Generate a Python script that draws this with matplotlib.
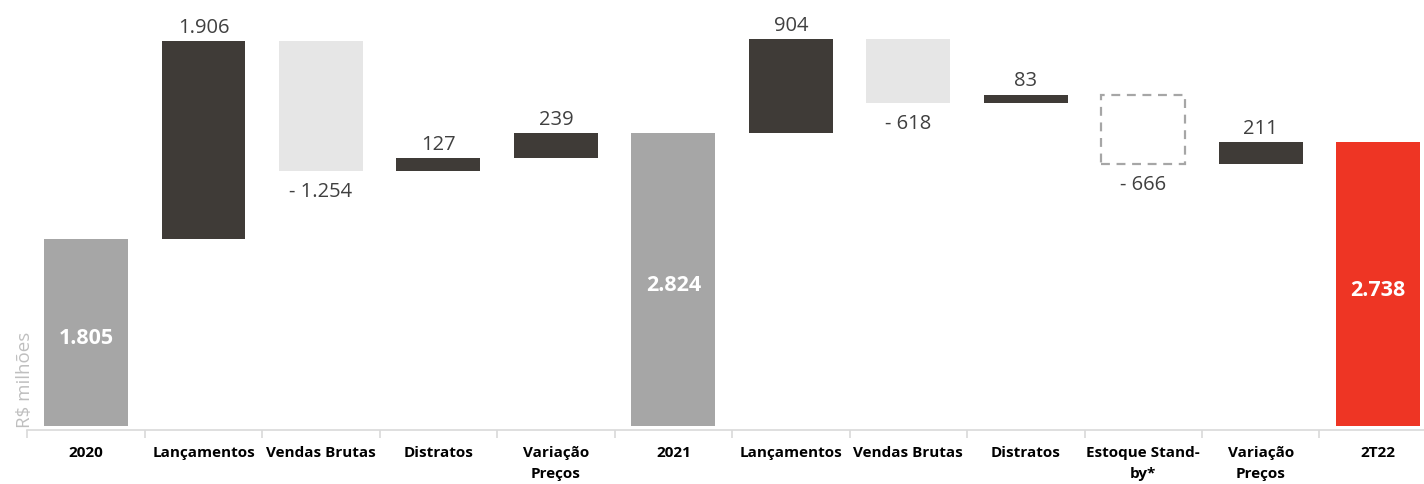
import numpy as np
import matplotlib
matplotlib.use("Agg")
import matplotlib.pyplot as plt

categories = ["2020", "Lançamentos", "Vendas Brutas", "Distratos", "Variação\nPreços",
              "2021", "Lançamentos", "Vendas Brutas", "Distratos", "Estoque Stand-\nby*",
              "Variação\nPreços", "2T22"]
values = [1805, 1906, -1254, 127, 239, 2824, 904, -618, 83, -666, 211, 2738]
kinds = ["total", "delta", "delta", "delta", "delta", "total",
         "delta", "delta", "delta", "standby", "delta", "final"]

DARK = "#3f3b37"
LIGHT = "#e6e6e6"
TOTAL = "#a6a6a6"
RED = "#ee3524"
TXT = "#404040"

plt.rcParams['font.family'] = ['Open Sans', 'DejaVu Sans']

fig = plt.figure(figsize=(14.24, 4.85), dpi=100)
# baseline sits at y=427 px, first category centred at x=86 px
ax = fig.add_axes([27.3 / 1424, 58 / 485, 1396.7 / 1424, 427 / 485])


def fmt(v):
    s = f"{abs(v):,}".replace(",", ".")
    return s if v > 0 else "- " + s


w = 0.715
running = 0
for i, (v, k) in enumerate(zip(values, kinds)):
    if k in ("total", "final"):
        color = RED if k == "final" else TOTAL
        ax.bar(i, v, width=w, color=color)
        ax.text(i, v / 2 - 50, fmt(v), ha="center", va="center",
                color="white", fontsize=15.5, fontweight="bold")
        running = v
        continue
    lo = min(running, running + v)
    hi = max(running, running + v)
    if k == "standby":
        ax.bar(i, hi - lo, bottom=lo, width=w, facecolor="none", edgecolor=TOTAL,
               linewidth=1.6, linestyle=(0, (4, 3)))
    else:
        ax.bar(i, hi - lo, bottom=lo, width=w, color=DARK if v > 0 else LIGHT)
    if v > 0:
        ax.text(i, hi + 40, fmt(v), ha="center", va="bottom", color=TXT, fontsize=14.5)
    else:
        ax.text(i, lo - 95, fmt(v), ha="center", va="top", color=TXT, fontsize=14.5)
    running += v

ax.set_yticks([])
for s in ["top", "right", "left"]:
    ax.spines[s].set_visible(False)
ax.spines["bottom"].set_color("#d9d9d9")
ax.spines["bottom"].set_linewidth(1.2)
ax.spines["bottom"].set_position(("outward", 3))

ax.set_xticks(np.arange(len(categories)))
ax.set_xticklabels(categories, fontsize=11, fontweight="bold", color="black", va="top",
                   linespacing=1.6)
ax.tick_params(axis="x", length=0, pad=11)
ax.set_xticks(np.arange(-0.5, len(categories)), minor=True)
ax.tick_params(axis="x", which="minor", length=6, color="#d9d9d9", width=1.2)

# limits after the ticks, set_xticks would widen them otherwise
ax.set_xlim(-0.5, 11.39)
ax.set_ylim(0, 4114)

fig.text(25 / 1424, 1 - 380 / 485, "R$ milhões", rotation=90, ha="center", va="center",
         color="#bfbfbf", fontsize=13.5)

plt.savefig("out.png", dpi=100)
